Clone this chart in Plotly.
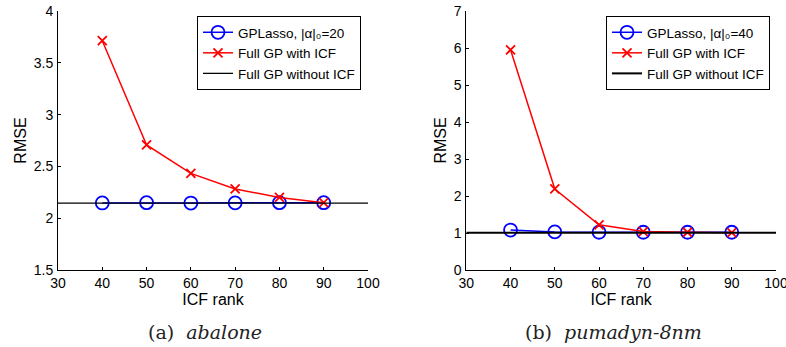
import plotly.graph_objects as go

# ---- data ----
icf_rank = [40, 50, 60, 70, 80, 90]

abalone_gplasso = [2.147, 2.150, 2.146, 2.148, 2.150, 2.150]
abalone_icf = [3.713, 2.707, 2.433, 2.282, 2.200, 2.150]
abalone_full = 2.145

pumadyn_gplasso = [1.08, 1.03, 1.02, 1.02, 1.02, 1.02]
pumadyn_icf = [5.95, 2.19, 1.22, 1.04, 1.02, 1.01]
pumadyn_full = 1.01

x_range = [30, 100]
x_ticks = [30, 40, 50, 60, 70, 80, 90, 100]
y_ticks_a = [1.5, 2, 2.5, 3, 3.5, 4]
y_ticks_b = [0, 1, 2, 3, 4, 5, 6, 7]

legend_a = ["GPLasso, |α|₀=20", "Full GP with ICF", "Full GP without ICF"]
legend_b = ["GPLasso, |α|₀=40", "Full GP with ICF", "Full GP without ICF"]
captions = ["(a)  <i>abalone</i>", "(b)  <i>pumadyn-8nm</i>"]

# body margin is removed by post_script, so figure pixels == screen pixels
W, H = 786, 347
def px(x):  # screen x -> paper fraction
    return x / W
def py(y):  # screen y -> paper fraction (from bottom)
    return (H - y) / H

SANS = "Liberation Sans, Arial, sans-serif"

fig = go.Figure()

panels = [
    dict(gp=abalone_gplasso, icf=abalone_icf, full=abalone_full, names=legend_a,
         xa="x", ya="y", leg="legend", fullw=1.3),
    dict(gp=pumadyn_gplasso, icf=pumadyn_icf, full=pumadyn_full, names=legend_b,
         xa="x2", ya="y2", leg="legend2", fullw=2.0),
]

for p in panels:
    fig.add_trace(go.Scatter(
        x=icf_rank, y=p["gp"], name=p["names"][0], mode="lines+markers",
        line=dict(color="#0000ff", width=1.5),
        marker=dict(symbol="circle-open", size=13, color="#0000ff", line=dict(width=1.8)),
        xaxis=p["xa"], yaxis=p["ya"], legend=p["leg"]))
    fig.add_trace(go.Scatter(
        x=icf_rank, y=p["icf"], name=p["names"][1], mode="lines+markers",
        line=dict(color="#ff0000", width=1.5),
        marker=dict(symbol="x-thin-open", size=9, color="#ff0000", line=dict(width=1.8, color="#ff0000")),
        xaxis=p["xa"], yaxis=p["ya"], legend=p["leg"]))
    fig.add_trace(go.Scatter(
        x=x_range, y=[p["full"], p["full"]], name=p["names"][2], mode="lines",
        line=dict(color="#000000", width=p["fullw"]),
        xaxis=p["xa"], yaxis=p["ya"], legend=p["leg"]))

axis_common = dict(showgrid=False, zeroline=False, showline=True, linecolor="black",
                   linewidth=1, ticks="inside", ticklen=3, tickcolor="black",
                   tickfont=dict(family=SANS, size=14, color="black"), mirror=False,
                   automargin=False, ticklabeloverflow="allow")
title_font = dict(family=SANS, size=16, color="black")

ydom = [py(270), py(11)]
fig.update_layout(
    width=W, height=H, margin=dict(l=0, r=0, t=0, b=0),
    paper_bgcolor="white", plot_bgcolor="white",
    xaxis=dict(domain=[px(58), px(368)], range=x_range, tickvals=x_ticks,
               title=dict(text="ICF rank", font=title_font, standoff=0),
               ticklabelstandoff=0, anchor="y", **axis_common),
    yaxis=dict(domain=ydom, range=[1.5, 4], tickvals=y_ticks_a,
               ticktext=["1.5", "2", "2.5", "3", "3.5", "4"],
               title=dict(text="RMSE", font=title_font, standoff=3),
               ticklabelstandoff=1, anchor="x", **axis_common),
    xaxis2=dict(domain=[px(466.3), px(776)], range=x_range, tickvals=x_ticks,
                title=dict(text="ICF rank", font=title_font, standoff=0),
                ticklabelstandoff=0, anchor="y2", **axis_common),
    yaxis2=dict(domain=ydom, range=[0, 7], tickvals=y_ticks_b,
                title=dict(text="RMSE", font=title_font, standoff=3),
                ticklabelstandoff=1, anchor="x2", **axis_common),
    legend=dict(x=px(197), y=py(16), xanchor="left", yanchor="top",
                bordercolor="black", borderwidth=1, bgcolor="white",
                font=dict(family=SANS, size=13.5, color="black"), itemwidth=30,
                tracegroupgap=0),
    legend2=dict(x=px(606), y=py(16), xanchor="left", yanchor="top",
                 bordercolor="black", borderwidth=1, bgcolor="white",
                 font=dict(family=SANS, size=13.5, color="black"), itemwidth=30,
                 tracegroupgap=0),
    showlegend=True,
)

cap_font = dict(family="DejaVu Serif, serif", size=19, color="#222222")
fig.add_annotation(x=px(205), y=py(332), xref="paper", yref="paper", text=captions[0],
                   showarrow=False, font=cap_font, xanchor="center", yanchor="middle")
fig.add_annotation(x=px(613), y=py(332), xref="paper", yref="paper", text=captions[1],
                   showarrow=False, font=cap_font, xanchor="center", yanchor="middle")

fig.write_html("out.html", config={"displayModeBar": False},
               post_script="document.body.style.margin='0';document.body.style.overflow='hidden';")
